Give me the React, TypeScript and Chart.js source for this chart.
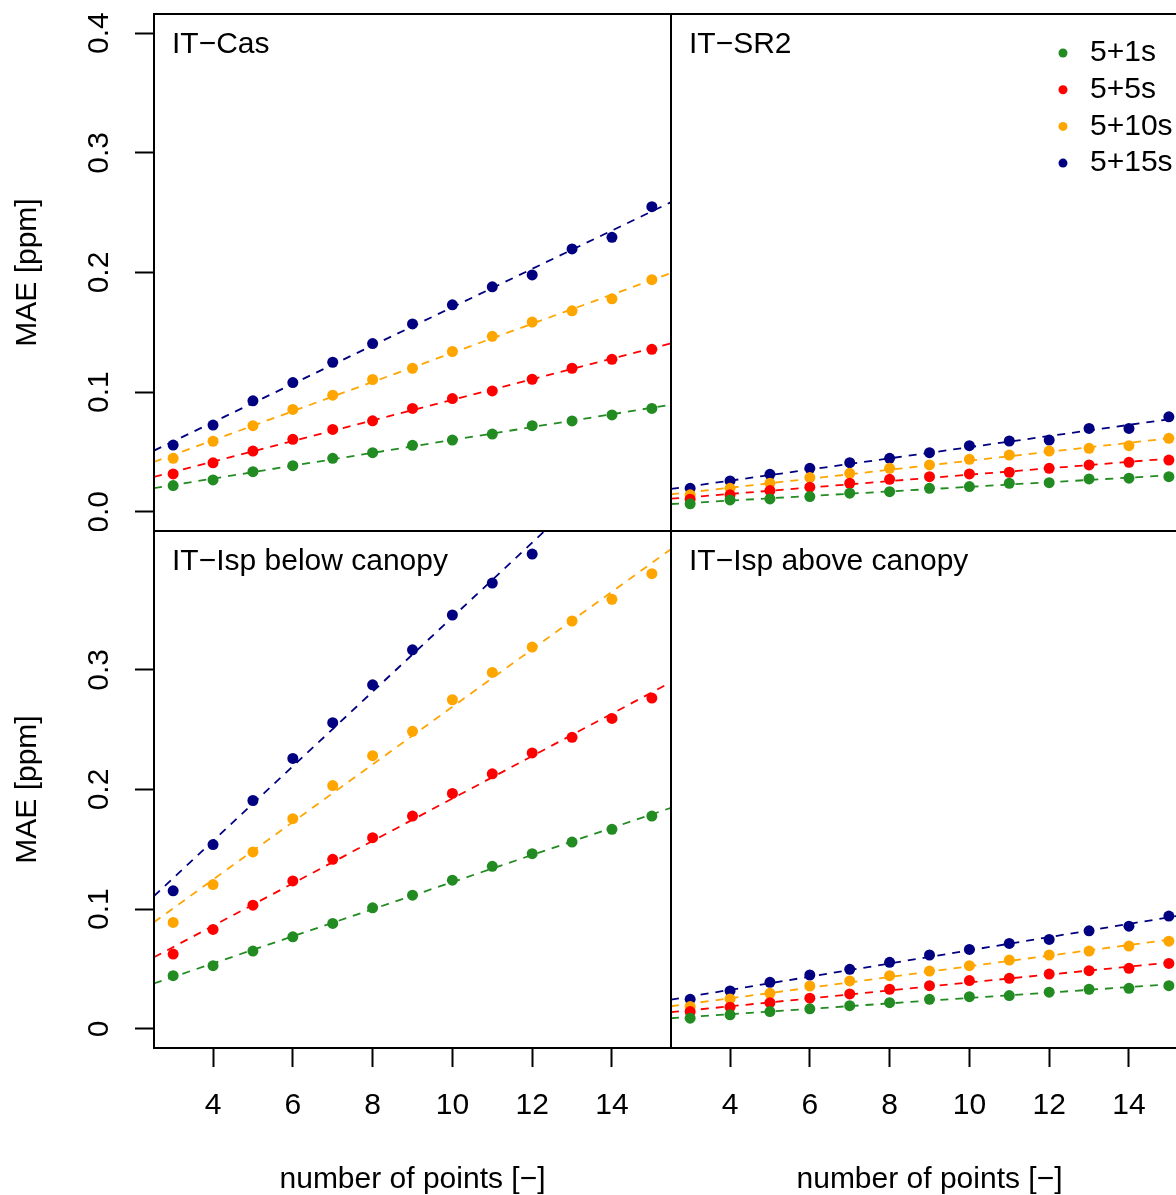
import React, { useEffect, useRef } from "react";
import { Chart, registerables } from "chart.js";
Chart.register(...registerables);

const FONT = '"Liberation Sans", Arial, Helvetica, sans-serif';
Chart.defaults.font.family = FONT;

// ---------- data ----------
const xPoints = [3, 4, 5, 6, 7, 8, 9, 10, 11, 12, 13, 14, 15];
const seriesNames = ["5+1s", "5+5s", "5+10s", "5+15s"];
const seriesColors = ["#228B22", "#FF0000", "#FFA500", "#000080"];

const casGreen = [0.022, 0.0267, 0.0336, 0.0386, 0.0447, 0.0494, 0.0556, 0.06, 0.065, 0.072, 0.076, 0.081, 0.0864];
const casRed = [0.0317, 0.041, 0.0508, 0.0606, 0.0689, 0.0761, 0.0864, 0.0947, 0.101, 0.1108, 0.12, 0.1275, 0.1358];
const casOrange = [0.0447, 0.059, 0.072, 0.0856, 0.0975, 0.1106, 0.12, 0.134, 0.1467, 0.1586, 0.168, 0.178, 0.194];
const casBlue = [0.0558, 0.0725, 0.0928, 0.108, 0.125, 0.1406, 0.157, 0.173, 0.188, 0.198, 0.2197, 0.2294, 0.255];

const sr2Green = [0.0067, 0.01, 0.0108, 0.0128, 0.0156, 0.0169, 0.0197, 0.0211, 0.0239, 0.0244, 0.0275, 0.0281, 0.0294];
const sr2Red = [0.0106, 0.0142, 0.0178, 0.0206, 0.0239, 0.0272, 0.0294, 0.0317, 0.0331, 0.0364, 0.0392, 0.0414, 0.0433];
const sr2Orange = [0.0142, 0.0197, 0.0239, 0.0286, 0.0322, 0.0364, 0.0392, 0.0439, 0.0475, 0.0508, 0.0531, 0.0553, 0.0614];
const sr2Blue = [0.0197, 0.0258, 0.0314, 0.0364, 0.0411, 0.0447, 0.0494, 0.0553, 0.0592, 0.06, 0.0697, 0.0697, 0.0794];

const belowGreen = [0.0444, 0.0528, 0.065, 0.0769, 0.0881, 0.1011, 0.1117, 0.1242, 0.1358, 0.1464, 0.1561, 0.1667, 0.1778];
const belowRed = [0.0625, 0.0831, 0.1033, 0.1236, 0.1417, 0.1597, 0.1778, 0.1967, 0.2131, 0.2306, 0.2436, 0.2594, 0.2764];
const belowOrange = [0.0889, 0.1206, 0.1478, 0.1756, 0.2033, 0.2283, 0.2486, 0.275, 0.2978, 0.319, 0.3408, 0.3589, 0.3803];
const belowBlue = [0.1153, 0.154, 0.1908, 0.226, 0.2558, 0.2875, 0.3167, 0.3458, 0.3725, 0.3967, null, null, null];

const aboveGreen = [0.0089, 0.0117, 0.0144, 0.0167, 0.0194, 0.0219, 0.0247, 0.0269, 0.0278, 0.0306, 0.0331, 0.0339, 0.0361];
const aboveRed = [0.0144, 0.0181, 0.0219, 0.0256, 0.0292, 0.0331, 0.0361, 0.0403, 0.0422, 0.0458, 0.0486, 0.0506, 0.0547];
const aboveOrange = [0.0186, 0.025, 0.0297, 0.0358, 0.04, 0.0444, 0.0483, 0.0528, 0.0575, 0.0617, 0.065, 0.0692, 0.0733];
const aboveBlue = [0.0247, 0.0317, 0.0389, 0.045, 0.0497, 0.0556, 0.0617, 0.0664, 0.0714, 0.0747, 0.0819, 0.0858, 0.0942];

const xTickValues = [4, 6, 8, 10, 12, 14];
const xTickLabels = ["4", "6", "8", "10", "12", "14"];
const yTickValuesTop = [0, 0.1, 0.2, 0.3, 0.4];
const yTickLabelsTop = ["0.0", "0.1", "0.2", "0.3", "0.4"];
const yTickValuesBottom = [0, 0.1, 0.2, 0.3];
const yTickLabelsBottom = ["0", "0.1", "0.2", "0.3"];

const X_MIN = 2.52;
const X_MAX = 15.48;
const Y_MIN = -0.016;
const Y_MAX = 0.416;

const xTitle = "number of points [\u2212]";
const yTitle = "MAE [ppm]";

// least-squares fit of the plotted points (trend lines)
function fit(xs: number[], ys: (number | null)[]) {
  const pts = xs.map((x, i) => [x, ys[i]]).filter((p) => p[1] != null) as number[][];
  const n = pts.length;
  const mx = pts.reduce((s, p) => s + p[0], 0) / n;
  const my = pts.reduce((s, p) => s + p[1], 0) / n;
  let sxy = 0, sxx = 0;
  pts.forEach((p) => { sxy += (p[0] - mx) * (p[1] - my); sxx += (p[0] - mx) ** 2; });
  const b = sxy / sxx;
  const a = my - b * mx;
  return [{ x: X_MIN, y: a + b * X_MIN }, { x: X_MAX, y: a + b * X_MAX }];
}

type PanelProps = {
  title: string;
  series: (number | null)[][];
  showY: boolean;
  showX: boolean;
  legend: boolean;
  yTicks: number[];
  yLabels: string[];
  left: number;
  top: number;
  width: number;
  height: number;
  padTop: number;
};

function Panel(p: PanelProps) {
  const ref = useRef<HTMLCanvasElement>(null);
  useEffect(() => {
    const canvas = ref.current!;
    const datasets: any[] = [];
    p.series.forEach((vals, i) => {
      datasets.push({
        type: "line",
        label: seriesNames[i] + " fit",
        data: fit(xPoints, vals),
        borderColor: seriesColors[i],
        borderWidth: 1.8,
        borderDash: [8, 7],
        pointRadius: 0,
        fill: false,
        order: 0,
      });
    });
    p.series.forEach((vals, i) => {
      datasets.push({
        type: "scatter",
        label: seriesNames[i],
        data: xPoints.map((x, k) => ({ x, y: vals[k] })).filter((d) => d.y != null),
        backgroundColor: seriesColors[i],
        borderWidth: 0,
        pointRadius: 5.5,
        order: 1,
      });
    });

    const decor = {
      id: "decor",
      afterDatasetsDraw(chart: any) {
        const { ctx, chartArea: a } = chart;
        ctx.save();
        ctx.strokeStyle = "#000";
        ctx.lineWidth = 2;
        ctx.strokeRect(a.left, a.top, a.right - a.left, a.bottom - a.top);
        ctx.fillStyle = "#000";
        ctx.font = "30px " + FONT;
        ctx.textAlign = "left";
        ctx.textBaseline = "middle";
        ctx.fillText(p.title, a.left + 18, a.top + 31);
        if (p.showY) {
          const ys = chart.scales.y;
          p.yTicks.forEach((v, i) => {
            const py = ys.getPixelForValue(v);
            ctx.save();
            ctx.translate(a.left - 54, py);
            ctx.rotate(-Math.PI / 2);
            ctx.textAlign = "center";
            ctx.textBaseline = "middle";
            ctx.fillText(p.yLabels[i], 0, 0);
            ctx.restore();
          });
        }
        if (p.legend) {
          seriesNames.forEach((name, i) => {
            const ly = a.top + 39 + i * 36.7;
            ctx.beginPath();
            ctx.fillStyle = seriesColors[i];
            ctx.arc(a.left + 392, ly, 4.5, 0, Math.PI * 2);
            ctx.fill();
            ctx.fillStyle = "#000";
            ctx.textAlign = "left";
            ctx.fillText(name, a.left + 419, ly);
          });
        }
        ctx.restore();
      },
    };

    const chart = new Chart(canvas, {
      type: "scatter",
      data: { datasets },
      options: {
        animation: false,
        responsive: false,
        devicePixelRatio: 1,
        events: [],
        layout: { padding: { top: p.padTop, left: 0, right: 0, bottom: 0 }, autoPadding: false },
        plugins: { legend: { display: false }, tooltip: { enabled: false } },
        scales: {
          x: {
            type: "linear",
            min: X_MIN,
            max: X_MAX,
            display: p.showX,
            afterBuildTicks: (s: any) => { s.ticks = xTickValues.map((v) => ({ value: v })); },
            afterFit: (s: any) => { s.height = p.showX ? 147 : 0; },
            grid: { drawOnChartArea: false, drawTicks: true, tickLength: 19, tickWidth: 2, tickColor: "#000" },
            border: { display: false },
            ticks: {
              autoSkip: false,
              maxRotation: 0,
              minRotation: 0,
              padding: 21,
              color: "#000",
              font: { size: 30, family: FONT, lineHeight: 1.2 },
              callback: (v: any) => { const i = xTickValues.indexOf(v); return i >= 0 ? xTickLabels[i] : ""; },
            },
            title: {
              display: true,
              text: xTitle,
              color: "#000",
              font: { size: 30, family: FONT, lineHeight: 1 },
              padding: { top: 0, bottom: 0 },
            },
          },
          y: {
            type: "linear",
            min: Y_MIN,
            max: Y_MAX,
            display: p.showY,
            afterBuildTicks: (s: any) => { s.ticks = p.yTicks.map((v) => ({ value: v })); },
            afterFit: (s: any) => { s.width = p.showY ? 154 : 0; },
            grid: { drawOnChartArea: false, drawTicks: true, tickLength: 19, tickWidth: 2, tickColor: "#000" },
            border: { display: false },
            ticks: { display: false },
            title: {
              display: true,
              text: yTitle,
              color: "#000",
              font: { size: 30, family: FONT, lineHeight: 1 },
              padding: { top: 13, bottom: 0 },
            },
          },
        },
      },
      plugins: [decor],
    } as any);
    return () => chart.destroy();
  }, []);
  return (
    <canvas
      ref={ref}
      width={p.width}
      height={p.height}
      style={{ position: "absolute", left: p.left, top: p.top, width: p.width, height: p.height }}
    />
  );
}

export default function App() {
  useEffect(() => {
    document.body.style.margin = "0";
    document.body.style.overflow = "hidden";
  }, []);
  return (
    <div style={{ position: "absolute", left: 0, top: 0, width: 1176, height: 1195, overflow: "hidden", background: "#fff" }}>
      <Panel title={"IT\u2212Cas"} series={[casGreen, casRed, casOrange, casBlue]} showY showX={false} legend={false}
        yTicks={yTickValuesTop} yLabels={yTickLabelsTop} left={0} top={0} width={671} height={531} padTop={14} />
      <Panel title={"IT\u2212SR2"} series={[sr2Green, sr2Red, sr2Orange, sr2Blue]} showY={false} showX={false} legend
        yTicks={yTickValuesTop} yLabels={yTickLabelsTop} left={671} top={0} width={517} height={531} padTop={14} />
      <Panel title={"IT\u2212Isp below canopy"} series={[belowGreen, belowRed, belowOrange, belowBlue]} showY showX legend={false}
        yTicks={yTickValuesBottom} yLabels={yTickLabelsBottom} left={0} top={531} width={671} height={664} padTop={0} />
      <Panel title={"IT\u2212Isp above canopy"} series={[aboveGreen, aboveRed, aboveOrange, aboveBlue]} showY={false} showX legend={false}
        yTicks={yTickValuesBottom} yLabels={yTickLabelsBottom} left={671} top={531} width={517} height={664} padTop={0} />
    </div>
  );
}
